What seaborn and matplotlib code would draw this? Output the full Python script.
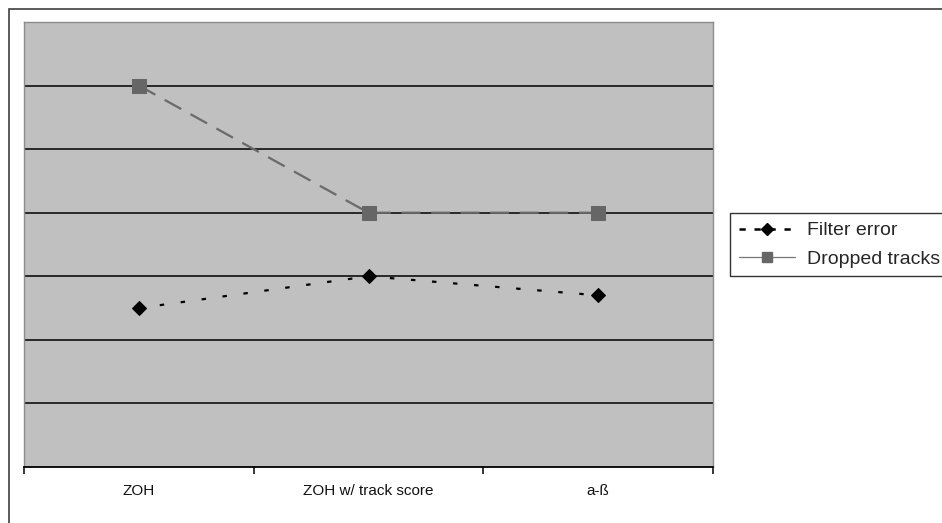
import matplotlib
matplotlib.use("Agg")
import matplotlib.pyplot as plt
from matplotlib import font_manager
from matplotlib.lines import Line2D
from matplotlib.patches import Rectangle
import seaborn as sns
import pandas as pd

# Chart data
categories = ["ZOH", "ZOH w/ track score", "a-ß"]
filter_error = [2.5, 3.0, 2.7]
dropped_tracks = [6.0, 4.0, 4.0]

df = pd.DataFrame({
    "pos": list(range(len(categories))) * 2,
    "value": filter_error + dropped_tracks,
    "series": ["Filter error"] * len(categories) + ["Dropped tracks"] * len(categories),
})

sns.set_theme(style="white")
plt.rcParams["font.family"] = ["Liberation Sans", "DejaVu Sans"]

# a condensed face for the category labels, if available
installed = {f.name for f in font_manager.fontManager.ttflist}
if "Liberation Sans Narrow" in installed:
    tick_family, tick_size = ["Liberation Sans Narrow", "DejaVu Sans"], 13
else:
    tick_family, tick_size = ["Liberation Sans", "DejaVu Sans"], 11

W, H = 942, 523
fig = plt.figure(figsize=(W / 100, H / 100), dpi=100)
fig.patch.set_facecolor("white")

# plot area in pixel coordinates
left, right, top, bottom = 24, 713, 22, 467
ax = fig.add_axes([left / W, 1 - bottom / H, (right - left) / W, (bottom - top) / H])
ax.set_facecolor("#C0C0C0")

# horizontal gridlines
for yv in range(1, 7):
    ax.axhline(yv, color="black", lw=1.1, zorder=1)

sns.lineplot(
    data=df[df.series == "Dropped tracks"], x="pos", y="value", ax=ax,
    color="#6A6A6A", lw=1.6, marker="s", markersize=9.5,
    markerfacecolor="#666666", markeredgecolor="#666666",
    dashes=False, legend=False, zorder=3,
)
sns.lineplot(
    data=df[df.series == "Filter error"], x="pos", y="value", ax=ax,
    color="black", lw=1.6, marker="D", markersize=7,
    markerfacecolor="black", markeredgecolor="black",
    legend=False, zorder=4,
)
ax.lines[-2].set_dashes((8.5, 4.8))
ax.lines[-1].set_dashes((2.0, 7.5))

ax.set_xlim(-0.5, len(categories) - 0.5)
ax.set_ylim(0, 7)
ax.set_xlabel("")
ax.set_ylabel("")
ax.set_yticks([])
ax.set_xticks([i - 0.5 for i in range(len(categories) + 1)])
ax.set_xticklabels([])
ax.set_xticks(range(len(categories)), minor=True)
ax.set_xticklabels(categories, minor=True, fontsize=tick_size, color="#111111",
                   family=tick_family)
ax.tick_params(axis="x", which="major", direction="out", length=5, width=1.1,
               color="black", bottom=True)
ax.tick_params(axis="x", which="minor", length=0, pad=12.5)

for side in ["top", "right", "left"]:
    ax.spines[side].set_color("#8C8C8C")
    ax.spines[side].set_linewidth(1.0)
ax.spines["bottom"].set_color("black")
ax.spines["bottom"].set_linewidth(1.3)

# outer chart frame
fig.patches.append(Rectangle((9 / W, -0.1), 1.2, 1 - 9 / H + 0.1,
                             transform=fig.transFigure, fill=False,
                             edgecolor="#404040", lw=1.2))

handles = [
    Line2D([], [], color="black", lw=1.8, dashes=(2.5, 3.5), marker="D",
           markersize=6, markerfacecolor="black"),
    Line2D([], [], color="#777777", lw=0.9, marker="s", markersize=7,
           markerfacecolor="#666666", markeredgecolor="#666666"),
]
leg = fig.legend(handles, ["Filter error", "Dropped tracks"],
                 loc="upper left", bbox_to_anchor=(730 / W, 1 - 213 / H),
                 fontsize=14, frameon=True, fancybox=False, shadow=False,
                 handlelength=2.9, handletextpad=0.6, borderpad=0.45,
                 labelspacing=0.55, borderaxespad=0)
leg.get_frame().set_edgecolor("black")
leg.get_frame().set_linewidth(1.0)
leg.get_frame().set_facecolor("white")

fig.savefig("out.png", dpi=100, facecolor="white")
